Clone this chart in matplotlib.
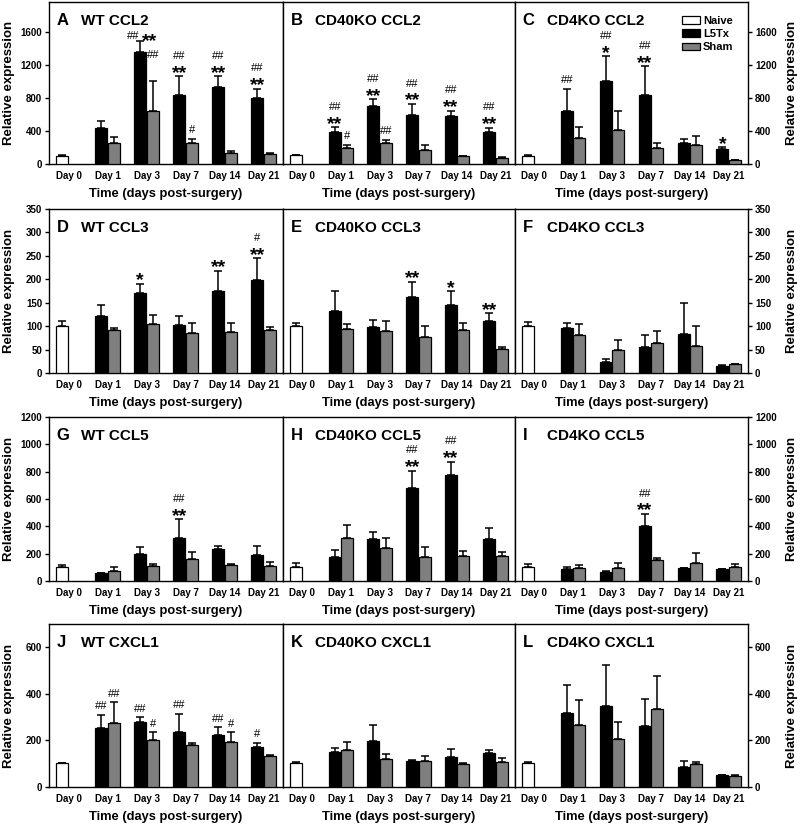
import matplotlib
matplotlib.use('Agg')
import matplotlib.pyplot as plt
import numpy as np

plt.rcParams['font.family'] = ['Liberation Sans', 'DejaVu Sans']
plt.rcParams['font.weight'] = 'bold'

# x categories
days = ['Day 0', 'Day 1', 'Day 3', 'Day 7', 'Day 14', 'Day 21']

# panel order A..L
panel_letters = ['A', 'B', 'C', 'D', 'E', 'F', 'G', 'H', 'I', 'J', 'K', 'L']
panel_titles = ['WT CCL2', 'CD40KO CCL2', 'CD4KO CCL2',
                'WT CCL3', 'CD40KO CCL3', 'CD4KO CCL3',
                'WT CCL5', 'CD40KO CCL5', 'CD4KO CCL5',
                'WT CXCL1', 'CD40KO CXCL1', 'CD4KO CXCL1']

# Naive (day 0) mean / SEM, per panel
naive_mean = [100, 104, 100, 100, 100, 100, 105, 100, 105, 101, 102, 101]
naive_sem = [10, 8, 8, 11, 7, 9, 12, 34, 17, 3, 6, 7]

# L5Tx and Sham, days 1, 3, 7, 14, 21
wt_ccl2_l5tx = [432, 1352, 832, 932, 800]
wt_ccl2_l5tx_sem = [88, 140, 228, 128, 112]
wt_ccl2_sham = [260, 640, 260, 132, 120]
wt_ccl2_sham_sem = [72, 364, 44, 28, 12]

cd40_ccl2_l5tx = [384, 700, 592, 580, 384]
cd40_ccl2_l5tx_sem = [60, 84, 132, 60, 52]
cd40_ccl2_sham = [196, 260, 172, 92, 72]
cd40_ccl2_sham_sem = [36, 32, 52, 8, 12]

cd4_ccl2_l5tx = [644, 1004, 840, 260, 184]
cd4_ccl2_l5tx_sem = [268, 300, 340, 40, 16]
cd4_ccl2_sham = [312, 412, 192, 232, 44]
cd4_ccl2_sham_sem = [132, 232, 60, 108, 8]

wt_ccl3_l5tx = [122, 171, 103, 176, 199]
wt_ccl3_l5tx_sem = [24, 20, 18, 42, 46]
wt_ccl3_sham = [91, 104, 86, 88, 91]
wt_ccl3_sham_sem = [4, 20, 20, 18, 8]

cd40_ccl3_l5tx = [132, 98, 162, 146, 110]
cd40_ccl3_l5tx_sem = [42, 16, 32, 28, 17]
cd40_ccl3_sham = [93, 89, 77, 91, 52]
cd40_ccl3_sham_sem = [11, 22, 23, 16, 3]

cd4_ccl3_l5tx = [96, 24, 56, 83, 15]
cd4_ccl3_l5tx_sem = [11, 5, 25, 67, 1.5]
cd4_ccl3_sham = [81, 50, 64, 58, 20]
cd4_ccl3_sham_sem = [23, 21, 26, 42, 0]

wt_ccl5_l5tx = [56, 198, 318, 235, 191]
wt_ccl5_l5tx_sem = [5, 54, 134, 24, 68]
wt_ccl5_sham = [76, 112, 164, 117, 110]
wt_ccl5_sham_sem = [24, 13, 46, 5, 32]

cd40_ccl5_l5tx = [178, 305, 683, 776, 305]
cd40_ccl5_l5tx_sem = [46, 56, 122, 97, 85]
cd40_ccl5_sham = [317, 239, 178, 185, 185]
cd40_ccl5_sham_sem = [93, 78, 73, 35, 30]

cd4_ccl5_l5tx = [86, 68, 403, 93, 86]
cd4_ccl5_l5tx_sem = [19, 8, 86, 5, 4]
cd4_ccl5_sham = [93, 93, 154, 134, 100]
cd4_ccl5_sham_sem = [22, 41, 17, 69, 22]

wt_cxcl1_l5tx = [255, 281, 237, 223, 171]
wt_cxcl1_l5tx_sem = [54, 18, 77, 33, 20]
wt_cxcl1_sham = [273, 201, 180, 194, 132]
wt_cxcl1_sham_sem = [90, 34, 11, 41, 5]

cd40_cxcl1_l5tx = [150, 196, 111, 127, 148]
cd40_cxcl1_l5tx_sem = [17, 72, 6, 37, 13]
cd40_cxcl1_sham = [158, 121, 112, 98, 106]
cd40_cxcl1_sham_sem = [35, 21, 19, 3, 18]

cd4_cxcl1_l5tx = [319, 348, 262, 86, 50]
cd4_cxcl1_l5tx_sem = [120, 177, 115, 26, 3]
cd4_cxcl1_sham = [266, 204, 334, 98, 47]
cd4_cxcl1_sham_sem = [108, 77, 141, 10, 3]

panel_data = [
    (wt_ccl2_l5tx, wt_ccl2_l5tx_sem, wt_ccl2_sham, wt_ccl2_sham_sem),
    (cd40_ccl2_l5tx, cd40_ccl2_l5tx_sem, cd40_ccl2_sham, cd40_ccl2_sham_sem),
    (cd4_ccl2_l5tx, cd4_ccl2_l5tx_sem, cd4_ccl2_sham, cd4_ccl2_sham_sem),
    (wt_ccl3_l5tx, wt_ccl3_l5tx_sem, wt_ccl3_sham, wt_ccl3_sham_sem),
    (cd40_ccl3_l5tx, cd40_ccl3_l5tx_sem, cd40_ccl3_sham, cd40_ccl3_sham_sem),
    (cd4_ccl3_l5tx, cd4_ccl3_l5tx_sem, cd4_ccl3_sham, cd4_ccl3_sham_sem),
    (wt_ccl5_l5tx, wt_ccl5_l5tx_sem, wt_ccl5_sham, wt_ccl5_sham_sem),
    (cd40_ccl5_l5tx, cd40_ccl5_l5tx_sem, cd40_ccl5_sham, cd40_ccl5_sham_sem),
    (cd4_ccl5_l5tx, cd4_ccl5_l5tx_sem, cd4_ccl5_sham, cd4_ccl5_sham_sem),
    (wt_cxcl1_l5tx, wt_cxcl1_l5tx_sem, wt_cxcl1_sham, wt_cxcl1_sham_sem),
    (cd40_cxcl1_l5tx, cd40_cxcl1_l5tx_sem, cd40_cxcl1_sham, cd40_cxcl1_sham_sem),
    (cd4_cxcl1_l5tx, cd4_cxcl1_l5tx_sem, cd4_cxcl1_sham, cd4_cxcl1_sham_sem),
]

# per row y axis
row_ylim = [1960, 350, 1200, 700]
row_yticks = [[0, 400, 800, 1200, 1600],
              [0, 50, 100, 150, 200, 250, 300, 350],
              [0, 200, 400, 600, 800, 1000, 1200],
              [0, 200, 400, 600]]

# significance marks: (panel, index in days 1..5, 'L'/'S', labels bottom->top)
marks = [
    ('A', 2, 'S', ['##']), ('A', 3, 'L', ['**', '##']), ('A', 3, 'S', ['#']),
    ('A', 4, 'L', ['**', '##']), ('A', 5, 'L', ['**', '##']),
    ('B', 1, 'L', ['**', '##']), ('B', 1, 'S', ['#']), ('B', 2, 'L', ['**', '##']),
    ('B', 2, 'S', ['##']), ('B', 3, 'L', ['**', '##']), ('B', 4, 'L', ['**', '##']),
    ('B', 5, 'L', ['**', '##']),
    ('C', 1, 'L', ['##']), ('C', 2, 'L', ['*', '##']), ('C', 3, 'L', ['**', '##']),
    ('C', 5, 'L', ['*']),
    ('D', 2, 'L', ['*']), ('D', 4, 'L', ['**']), ('D', 5, 'L', ['**', '#']),
    ('E', 3, 'L', ['**']), ('E', 4, 'L', ['*']), ('E', 5, 'L', ['**']),
    ('G', 3, 'L', ['**', '##']),
    ('H', 3, 'L', ['**', '##']), ('H', 4, 'L', ['**', '##']),
    ('I', 3, 'L', ['**', '##']),
    ('J', 1, 'L', ['##']), ('J', 1, 'S', ['##']), ('J', 2, 'L', ['##']),
    ('J', 2, 'S', ['#']), ('J', 3, 'L', ['##']), ('J', 4, 'L', ['##']),
    ('J', 4, 'S', ['#']), ('J', 5, 'L', ['#']),
]

W, H = 800, 827
col_px = [(49, 283), (283, 515), (515, 748)]
row_px = [(2, 164), (209, 373), (417, 581), (624, 787)]

fig = plt.figure(figsize=(8, 8.27), dpi=100)

width = 0.31
off = 0.16
gray = '#7f7f7f'
star_size = 14
hash_size = 8


def put_label(ax, xpos, top, text, h_px, ha='center', dx=0):
    # h_px: wanted height of glyph centre above the error-bar top
    if '*' in text:
        size, k, weight = star_size, 0.56, 'bold'
    else:
        size, k, weight = hash_size, 0.35, 'normal'
    base_px = h_px - k * size / 0.72
    ax.annotate(text, xy=(xpos, top), xytext=(dx, base_px * 0.72),
                textcoords='offset points', ha=ha, va='baseline',
                fontsize=size, fontweight=weight, zorder=5)


for i in range(12):
    r, c = divmod(i, 3)
    x0, x1 = col_px[c]
    y0, y1 = row_px[r]
    ax = fig.add_axes([x0 / W, 1 - y1 / H, (x1 - x0) / W, (y1 - y0) / H])
    l5, l5_sem, sham, sham_sem = panel_data[i]
    x = np.arange(len(days))

    b0 = ax.bar(x[0] - off, naive_mean[i], width, color='white', edgecolor='black',
                linewidth=0.9, zorder=3, label='Naive')
    b1 = ax.bar(x[1:] - off, l5, width, color='black', edgecolor='black',
                linewidth=0.9, zorder=3, label='L5Tx')
    b2 = ax.bar(x[1:] + off, sham, width, color=gray, edgecolor='black',
                linewidth=0.9, zorder=3, label='Sham')

    ex = np.concatenate([[x[0] - off], x[1:] - off, x[1:] + off])
    ey = np.concatenate([[naive_mean[i]], l5, sham])
    ee = np.concatenate([[naive_sem[i]], l5_sem, sham_sem])
    ax.errorbar(ex, ey, yerr=[np.zeros_like(ee), ee], fmt='none', ecolor='black',
                elinewidth=1.1, capsize=3, capthick=1.1, zorder=2)

    ax.set_xlim(-0.5, 5.5)
    ax.set_ylim(0, row_ylim[r])
    ax.set_xticks(x)
    ax.set_xticklabels(days, fontsize=7)
    ax.tick_params(axis='x', length=0, pad=5)
    ax.set_yticks(row_yticks[r])
    for s in ax.spines.values():
        s.set_linewidth(1.0)

    if c == 0:
        ax.tick_params(axis='y', direction='out', length=3, width=1, labelsize=7, pad=2)
        ax.text(-0.171, 0.5, 'Relative expression', rotation=90, transform=ax.transAxes,
                ha='center', va='center', fontsize=9.5)
    elif c == 2:
        ax.yaxis.tick_right()
        ax.tick_params(axis='y', direction='out', length=3, width=1, labelsize=7, pad=2)
        ax.text(1.19, 0.5, 'Relative expression', rotation=90, transform=ax.transAxes,
                ha='center', va='center', fontsize=9.5)
    else:
        ax.tick_params(axis='y', left=False, labelleft=False)

    ax.text(0.5, -0.148, 'Time (days post-surgery)', transform=ax.transAxes,
            ha='center', va='top', fontsize=9.3)

    ax.text(0.032, 0.885, panel_letters[i], transform=ax.transAxes,
            ha='left', va='center', fontsize=12)
    ax.text(0.137, 0.885, panel_titles[i], transform=ax.transAxes,
            ha='left', va='center', fontsize=11)

    if panel_letters[i] == 'C':
        ax.legend(handles=[b0, b1, b2], loc='upper left', bbox_to_anchor=(0.717, 0.915),
                  frameon=False, fontsize=8, borderpad=0, borderaxespad=0,
                  handlelength=1.6, handleheight=0.65, handletextpad=0.3,
                  labelspacing=0.3)

    # significance marks
    for (p, d, s, labels) in marks:
        if p != panel_letters[i]:
            continue
        if s == 'L':
            xpos, top = d - off, l5[d - 1] + l5_sem[d - 1]
        else:
            xpos, top = d + off, sham[d - 1] + sham_sem[d - 1]
        lift = 17 if (p, d, s) == ('A', 2, 'S') else 0
        for lvl, lab in enumerate(labels):
            put_label(ax, xpos, top, lab, 9.5 + 12 * lvl + lift)

    # panel A, day 3 L5Tx: marks side by side
    if panel_letters[i] == 'A':
        top = l5[1] + l5_sem[1]
        put_label(ax, 2 - off, top, '##', 5.5, ha='right', dx=-0.5)
        put_label(ax, 2 - off, top, '**', 5.5, ha='left', dx=1)

fig.savefig('out.png', dpi=100)
